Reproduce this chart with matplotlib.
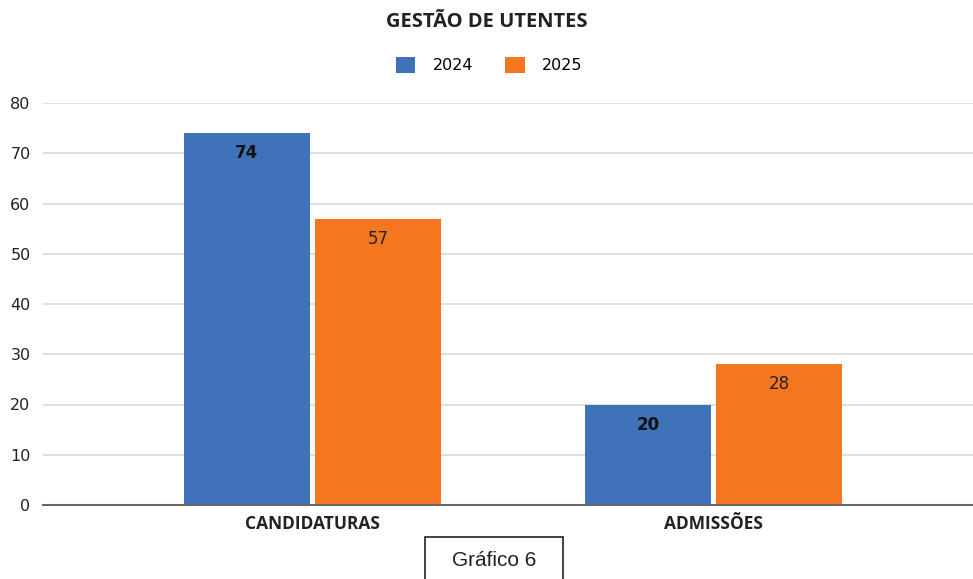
import numpy as np
import matplotlib.pyplot as plt
from matplotlib.patches import Rectangle

# data
categories = ['CANDIDATURAS', 'ADMISSÕES']
series_names = ['2024', '2025']
values_2024 = [74, 20]
values_2025 = [57, 28]
y_ticks = [0, 10, 20, 30, 40, 50, 60, 70, 80]

blue = '#3F72B9'
orange = '#F47720'

fig = plt.figure(figsize=(9.73, 5.79), dpi=100)
ax = fig.add_axes([43/973, 74/579, 930/973, 402/579])

x = np.arange(len(categories))
w = 0.314
off = 0.1635

ax.bar(x - off, values_2024, w, color=blue, label=series_names[0], zorder=3)
ax.bar(x + off, values_2025, w, color=orange, label=series_names[1], zorder=3)

# value labels inside the top of bars
for xi, v in zip(x - off, values_2024):
    ax.annotate(str(v), (xi, v), xytext=(0, -14.5), textcoords='offset points',
                ha='center', va='center', fontsize=12, fontweight='bold',
                family='DejaVu Sans', color='#111111', zorder=4)
for xi, v in zip(x + off, values_2025):
    ax.annotate(str(v), (xi, v), xytext=(0, -14.5), textcoords='offset points',
                ha='center', va='center', fontsize=12,
                family='DejaVu Sans', color='#222222', zorder=4)

ax.set_ylim(0, 80)
ax.set_xlim(-0.672, 1.647)
ax.set_yticks(y_ticks)
ax.set_yticklabels([str(t) for t in y_ticks], family='DejaVu Sans', fontsize=11.5, color='#222222')
ax.set_xticks(x)
ax.set_xticklabels(categories, family='Open Sans', fontsize=12.5, fontweight='bold', color='#222222')
ax.tick_params(axis='y', length=0, pad=9)
ax.tick_params(axis='x', length=0, pad=7)
ax.grid(axis='y', color='#D9D9D9', linewidth=1.2, zorder=0)
for s in ['left', 'right', 'top']:
    ax.spines[s].set_visible(False)
ax.spines['bottom'].set_color('#666666')
ax.spines['bottom'].set_linewidth(1.5)
ax.spines['bottom'].set_zorder(5)

fig.text(0.5, 1 - 22/579, 'GESTÃO DE UTENTES', ha='center', va='center',
         family='Open Sans', fontweight='bold', fontsize=14.5, color='#222222')

fig.legend(loc='center', bbox_to_anchor=(0.503, 1 - 65/579), ncol=2, frameon=False,
           handlelength=1.2, handleheight=1.2, columnspacing=2.0, handletextpad=1.1,
           prop={'family': 'DejaVu Sans', 'size': 11.5})

# caption box
fig.patches.append(Rectangle((425/973, -0.01), 138/973, (42/579) + 0.01, transform=fig.transFigure,
                             fill=False, edgecolor='#222222', linewidth=1.2))
fig.text(494/973, 1 - 560/579, 'Gráfico 6', ha='center', va='center',
         family='Liberation Sans', fontsize=15, color='#222222')

fig.savefig('out.png', dpi=100)
